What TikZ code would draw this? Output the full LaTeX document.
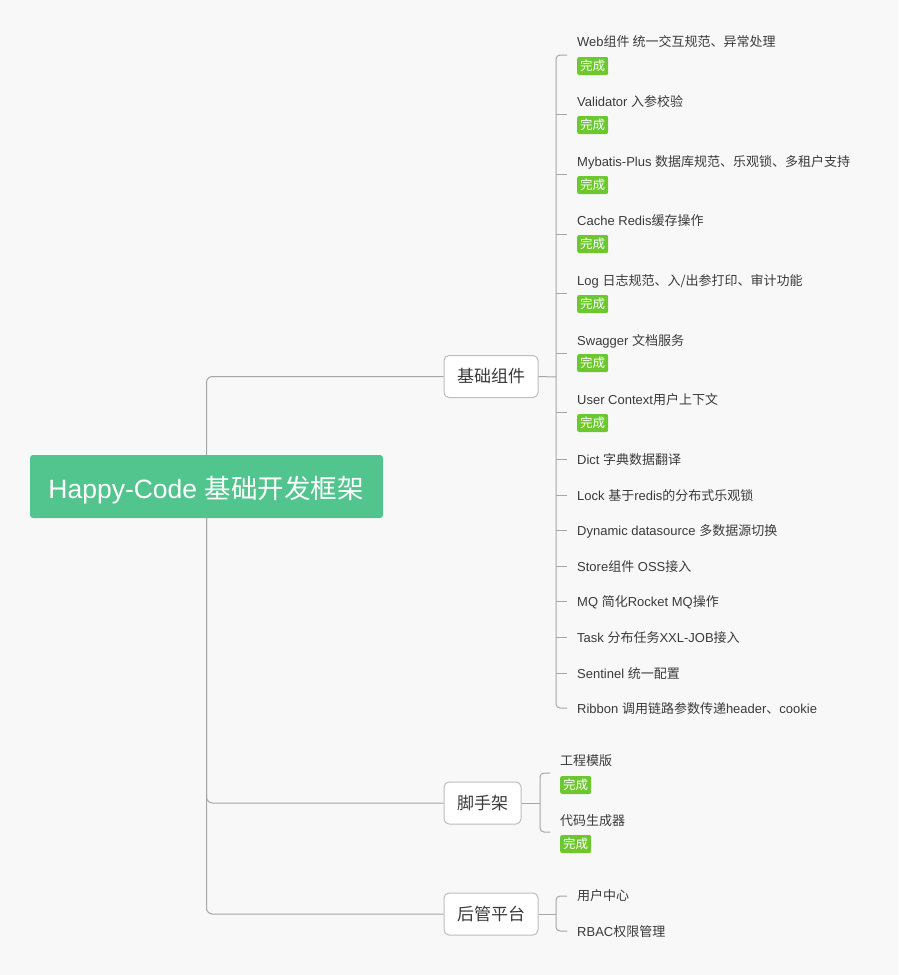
\documentclass[tikz,border=0pt]{standalone}
\usepackage{fontspec}
\setmainfont{Liberation Sans}
\newfontfamily\cjk{Noto Sans CJK SC}
\newcommand\zh[1]{{\cjk #1}}
\definecolor{bgc}{HTML}{F8F8F8}
\definecolor{rootgreen}{HTML}{52C48E}
\definecolor{badgegreen}{HTML}{6CC82E}
\definecolor{linec}{HTML}{A6A6A6}
\definecolor{boxborder}{HTML}{BDBDBD}
\definecolor{textc}{HTML}{3A3A3A}
\tikzset{
 conn/.style={draw=linec, line width=1pt},
 rootbox/.style={fill=rootgreen, rounded corners=3pt, text=white, font=\fontsize{26.5}{30}\selectfont, minimum width=353pt, minimum height=63pt, inner sep=0pt},
 topic/.style={draw=boxborder, fill=white, rounded corners=5pt, line width=1pt, font=\fontsize{17}{20}\selectfont\cjk, text=textc, minimum height=42pt, inner sep=0pt},
 leaf/.style={anchor=west, font=\fontsize{13}{16}\selectfont, text=textc, inner sep=0pt, yshift=-1pt},
 badge/.style={anchor=west, fill=badgegreen, rounded corners=2pt, text=white, font=\fontsize{12.5}{14}\selectfont\cjk, minimum width=31pt, minimum height=18pt, inner sep=0pt},
}
\begin{document}
\begin{tikzpicture}[x=1pt,y=-1pt]
\useasboundingbox[fill=bgc] (0,0) rectangle (898,975);
% root and topics
\node[rootbox] (root) at (206.5,486.5) {};
\node[text=white, font=\fontsize{26.5}{30}\selectfont, inner sep=0pt] (roottext) at (206,490) {Happy-Code \zh{基础开发框架}};
\node[topic, minimum width=94pt] (jc) at (491,376.5) {基础组件};
\node[topic, minimum width=77pt] (sj) at (482.5,803) {脚手架};
\node[topic, minimum width=94pt] (hg) at (491,914) {后管平台};
\draw[conn, rounded corners=6pt] (root.north) |- (jc.west);
\draw[conn, rounded corners=6pt] (root.south) |- (sj.west);
\draw[conn, rounded corners=6pt] (root.south) |- (hg.west);
% group 1 bracket
\coordinate (b1) at (556,377);
\draw[conn] (jc.east) -- (b1);
\foreach \n/\y in {1/55,2/114,3/174,4/234,5/293,6/353,7/412,8/459,9/495,10/530,11/566,12/601,13/637,14/673,15/708}
  \coordinate (t\n) at (567,\y);
\draw[conn, rounded corners=4pt] (t1) -- (t1 -| b1) -- (t15 -| b1) -- (t15);
\foreach \n in {2,...,14} \draw[conn] (t\n -| b1) -- (t\n);
% group 1 leaves
\node[leaf] (l1) at (577,41) {Web\zh{组件 统一交互规范、异常处理}};
\node[badge] (k1) at (577,66) {完成};
\node[leaf] (l2) at (577,101) {Validator \zh{入参校验}};
\node[badge] (k2) at (577,125) {完成};
\node[leaf] (l3) at (577,161) {Mybatis-Plus \zh{数据库规范、乐观锁、多租户支持}};
\node[badge] (k3) at (577,185) {完成};
\node[leaf] (l4) at (577,220) {Cache Redis\zh{缓存操作}};
\node[badge] (k4) at (577,244) {完成};
\node[leaf] (l5) at (577,280) {Log \zh{日志规范、入/出参打印、审计功能}};
\node[badge] (k5) at (577,304) {完成};
\node[leaf] (l6) at (577,340) {Swagger \zh{文档服务}};
\node[badge] (k6) at (577,363) {完成};
\node[leaf] (l7) at (577,399) {User Context\zh{用户上下文}};
\node[badge] (k7) at (577,423) {完成};
\node[leaf] (l8) at (577,459) {Dict \zh{字典数据翻译}};
\node[leaf] (l9) at (577,495) {Lock \zh{基于}redis\zh{的分布式乐观锁}};
\node[leaf] (l10) at (577,530) {Dynamic datasource \zh{多数据源切换}};
\node[leaf] (l11) at (577,566) {Store\zh{组件} OSS\zh{接入}};
\node[leaf] (l12) at (577,601) {MQ \zh{简化}Rocket MQ\zh{操作}};
\node[leaf] (l13) at (577,637) {Task \zh{分布任务}XXL-JOB\zh{接入}};
\node[leaf] (l14) at (577,673) {Sentinel \zh{统一配置}};
\node[leaf] (l15) at (577,708) {Ribbon \zh{调用链路参数传递}header\zh{、}cookie};
% group 2
\coordinate (b2) at (540,803);
\coordinate (s1) at (550,773);
\coordinate (s2) at (550,832);
\draw[conn] (sj.east) -- (b2);
\draw[conn, rounded corners=4pt] (s1) -- (s1 -| b2) -- (s2 -| b2) -- (s2);
\node[leaf, font=\fontsize{13}{16}\selectfont\cjk] (m1) at (560,760) {工程模版};
\node[badge] (n1) at (560,785) {完成};
\node[leaf, font=\fontsize{13}{16}\selectfont\cjk] (m2) at (560,820) {代码生成器};
\node[badge] (n2) at (560,844) {完成};
% group 3
\coordinate (b3) at (556,914);
\coordinate (u1) at (567,896);
\coordinate (u2) at (567,931);
\draw[conn] (hg.east) -- (b3);
\draw[conn, rounded corners=4pt] (u1) -- (u1 -| b3) -- (u2 -| b3) -- (u2);
\node[leaf, font=\fontsize{13}{16}\selectfont\cjk] (h1) at (577,895) {用户中心};
\node[leaf] (h2) at (577,931) {RBAC\zh{权限管理}};
\end{tikzpicture}
\end{document}
